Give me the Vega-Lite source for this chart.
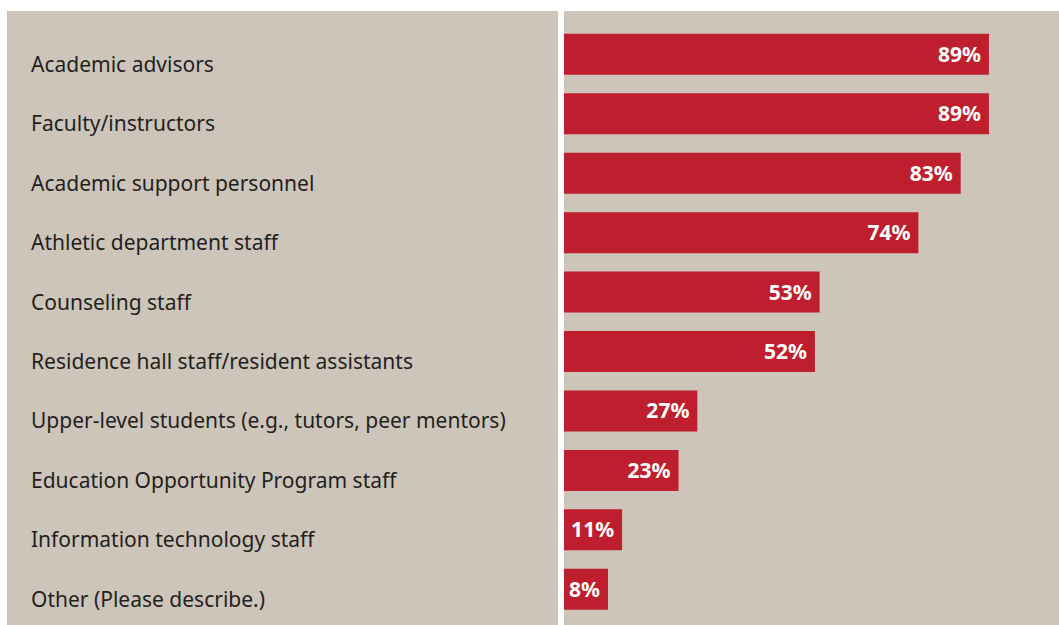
{
  "$schema": "https://vega.github.io/schema/vega-lite/v6.json",
  "background": "white",
  "padding": {"left": 7, "top": 11, "right": 0, "bottom": 0},
  "spacing": 6,
  "config": {
    "view": {"fill": "#CDC5BA", "stroke": null},
    "font": "Noto Sans"
  },
  "data": {
    "values": [
      {"category": "Academic advisors", "pct": 0.89},
      {"category": "Faculty/instructors", "pct": 0.89},
      {"category": "Academic support personnel", "pct": 0.83},
      {"category": "Athletic department staff", "pct": 0.74},
      {"category": "Counseling staff", "pct": 0.53},
      {"category": "Residence hall staff/resident assistants", "pct": 0.52},
      {"category": "Upper-level students (e.g., tutors, peer mentors)", "pct": 0.27},
      {"category": "Education Opportunity Program staff", "pct": 0.23},
      {"category": "Information technology staff", "pct": 0.11},
      {"category": "Other (Please describe.)", "pct": 0.08}
    ]
  },
  "hconcat": [
    {
      "width": 551,
      "height": 614,
      "mark": {"type": "text", "align": "left", "baseline": "alphabetic", "dx": -251.5, "dy": 17.5, "fontSize": 21, "color": "#231F20", "font": "Noto Sans"},
      "encoding": {
        "y": {"field": "category", "type": "nominal", "sort": null, "axis": null,
              "scale": {"type": "band", "paddingInner": 0.31, "paddingOuter": 0.32, "align": 0.6}},
        "text": {"field": "category"}
      }
    },
    {
      "width": 495,
      "height": 614,
      "encoding": {
        "y": {"field": "category", "type": "nominal", "sort": null, "axis": null,
              "scale": {"type": "band", "paddingInner": 0.31, "paddingOuter": 0.32, "align": 0.6}},
        "x": {"field": "pct", "type": "quantitative", "axis": null, "scale": {"domain": [-0.0135, 1.039], "nice": false, "zero": false}}
      },
      "layer": [
        {"mark": {"type": "bar", "color": "#BE1E2D"}, "encoding": {"x2": {"datum": -0.0135}}},
        {
          "mark": {"type": "text", "align": "right", "baseline": "alphabetic", "dx": -8, "dy": 7.5, "fontSize": 21, "fontWeight": "bold", "color": "white", "font": "Noto Sans"},
          "encoding": {"text": {"field": "pct", "type": "quantitative", "format": ".0%"}}
        }
      ]
    }
  ]
}
